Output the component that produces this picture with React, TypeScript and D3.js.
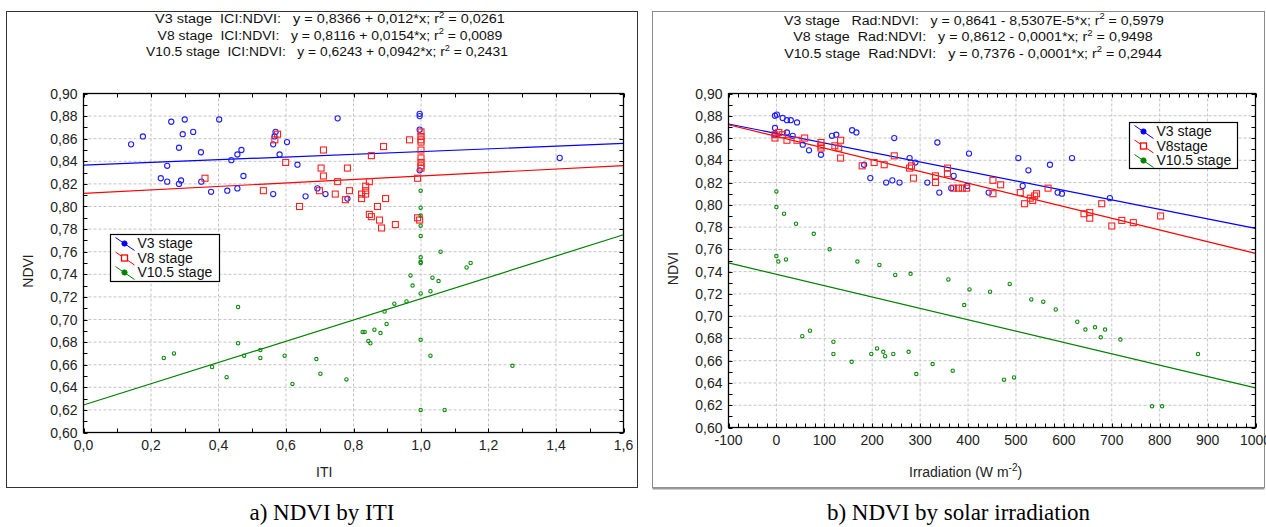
import { useEffect, useRef } from "react";
import * as d3 from "d3";

type Pt = [number, number];

// NDVI tick labels (shared by both panels)
const ndviTicks = [0.6, 0.62, 0.64, 0.66, 0.68, 0.7, 0.72, 0.74, 0.76, 0.78, 0.8, 0.82, 0.84, 0.86, 0.88, 0.9];
const itiTicks = [0, 0.2, 0.4, 0.6, 0.8, 1.0, 1.2, 1.4, 1.6];
const radTicks = [-100, 0, 100, 200, 300, 400, 500, 600, 700, 800, 900, 1000];

// panel a) NDVI by ITI
const v3Iti: Pt[] = [
  [0.141, 0.855], [0.176, 0.862], [0.26, 0.875], [0.3, 0.877], [0.402, 0.877], [0.294, 0.864], [0.325, 0.866],
  [0.283, 0.852], [0.348, 0.848], [0.248, 0.836], [0.229, 0.825], [0.248, 0.822], [0.289, 0.823], [0.283, 0.82],
  [0.349, 0.822], [0.378, 0.813], [0.426, 0.814], [0.456, 0.816], [0.438, 0.841], [0.456, 0.846], [0.468, 0.85],
  [0.474, 0.827], [0.562, 0.855], [0.566, 0.862], [0.569, 0.866], [0.581, 0.846], [0.603, 0.857], [0.562, 0.811],
  [0.634, 0.837], [0.658, 0.809], [0.693, 0.816], [0.717, 0.811], [0.753, 0.878], [0.996, 0.882], [0.996, 0.88],
  [0.996, 0.868], [0.996, 0.832], [1.411, 0.843], [0.782, 0.807],
];
const v8Iti: Pt[] = [
  [0.36, 0.825], [0.533, 0.814], [0.567, 0.859], [0.575, 0.864], [0.599, 0.839], [0.64, 0.8], [0.704, 0.834],
  [0.711, 0.85], [0.711, 0.827], [0.699, 0.814], [0.753, 0.822], [0.746, 0.811], [0.782, 0.834], [0.788, 0.814],
  [0.776, 0.806], [0.853, 0.845], [0.889, 0.853], [0.847, 0.822], [0.836, 0.818], [0.836, 0.814], [0.836, 0.811],
  [0.824, 0.811], [0.824, 0.807], [0.895, 0.807], [0.871, 0.8], [0.847, 0.793], [0.853, 0.791], [0.877, 0.788],
  [0.883, 0.781], [0.924, 0.784], [0.966, 0.859], [1.0, 0.866], [1.0, 0.862], [1.0, 0.859], [1.0, 0.857],
  [1.0, 0.85], [1.0, 0.843], [1.0, 0.839], [1.0, 0.836], [1.0, 0.834], [0.99, 0.825], [0.99, 0.79], [0.996, 0.788],
];
const v105Iti: Pt[] = [
  [0.999, 0.814], [0.999, 0.799], [0.999, 0.792], [0.999, 0.783], [0.999, 0.774], [1.058, 0.76], [0.999, 0.755],
  [0.999, 0.751], [0.999, 0.75], [1.135, 0.746], [1.147, 0.75], [0.969, 0.739], [1.034, 0.737], [0.975, 0.73],
  [1.052, 0.734], [0.999, 0.723], [1.028, 0.725], [0.957, 0.716], [0.921, 0.714], [0.892, 0.707], [0.898, 0.696],
  [0.827, 0.689], [0.833, 0.689], [0.862, 0.691], [0.88, 0.688], [0.844, 0.681], [0.85, 0.679], [0.999, 0.682],
  [1.028, 0.668], [0.69, 0.665], [0.702, 0.652], [0.779, 0.647], [1.271, 0.659], [0.999, 0.62], [1.07, 0.62],
  [0.238, 0.666], [0.268, 0.67], [0.381, 0.658], [0.424, 0.649], [0.458, 0.711], [0.458, 0.679], [0.476, 0.668],
  [0.524, 0.673], [0.524, 0.666], [0.596, 0.668], [0.619, 0.643],
];

// panel b) NDVI by solar irradiation
const v3Rad: Pt[] = [
  [-3, 0.88], [1, 0.881], [13, 0.878], [22, 0.876], [30, 0.876], [43, 0.874], [-3, 0.869], [-3, 0.863], [22, 0.865],
  [34, 0.862], [55, 0.854], [68, 0.849], [93, 0.845], [116, 0.862], [125, 0.863], [158, 0.867], [167, 0.865],
  [183, 0.836], [196, 0.824], [229, 0.82], [242, 0.822], [257, 0.82], [246, 0.86], [278, 0.842], [290, 0.838],
  [315, 0.82], [336, 0.856], [340, 0.811], [370, 0.826], [365, 0.815], [398, 0.817], [402, 0.846], [505, 0.842],
  [526, 0.831], [514, 0.817], [443, 0.811], [571, 0.836], [617, 0.842], [587, 0.811], [596, 0.81], [696, 0.806],
];
const v8Rad: Pt[] = [
  [-3, 0.863], [-3, 0.86], [5, 0.865], [13, 0.863], [22, 0.858], [43, 0.858], [59, 0.86], [93, 0.856], [93, 0.853],
  [93, 0.851], [122, 0.853], [130, 0.851], [134, 0.858], [134, 0.842], [179, 0.835], [204, 0.838], [225, 0.836],
  [246, 0.844], [278, 0.833], [282, 0.835], [286, 0.824], [332, 0.826], [332, 0.82], [357, 0.833], [357, 0.828],
  [370, 0.815], [380, 0.815], [388, 0.815], [397, 0.815], [452, 0.822], [468, 0.818], [452, 0.81], [509, 0.811],
  [518, 0.801], [530, 0.806], [535, 0.804], [539, 0.808], [543, 0.81], [567, 0.815], [642, 0.792], [654, 0.793],
  [654, 0.788], [679, 0.801], [700, 0.781], [721, 0.786], [745, 0.784], [802, 0.79],
];
const v105Rad: Pt[] = [
  [0, 0.812], [0, 0.798], [16, 0.792], [41, 0.783], [78, 0.774], [111, 0.76], [0, 0.754], [4, 0.749], [20, 0.751],
  [169, 0.749], [215, 0.746], [248, 0.737], [280, 0.738], [359, 0.733], [392, 0.71], [403, 0.724], [54, 0.682],
  [70, 0.687], [119, 0.677], [119, 0.666], [157, 0.659], [198, 0.666], [210, 0.671], [223, 0.668], [227, 0.664],
  [244, 0.666], [276, 0.668], [292, 0.648], [326, 0.657], [368, 0.651], [446, 0.722], [487, 0.729], [475, 0.643],
  [496, 0.645], [532, 0.715], [557, 0.713], [583, 0.706], [628, 0.695], [645, 0.688], [665, 0.69], [686, 0.688],
  [677, 0.681], [718, 0.679], [880, 0.666], [784, 0.619], [805, 0.619],
];

// regression lines [intercept, slope]
const itiFits: Pt[] = [[0.8366, 0.012], [0.8116, 0.0154], [0.6243, 0.0942]];
const radFits: Pt[] = [[0.8641, -8.5307e-5], [0.8614, -0.000105], [0.7376, -0.000102]];

const stageNames = ["V3 stage", "V8 stage", "V10.5 stage"];
const stageNamesB = ["V3 stage", "V8stage", "V10.5 stage"];

const itiTitles = [
  ["V3 stage  ICI:NDVI:   y = 0,8366 + 0,012*x; r", " = 0,0261"],
  ["V8 stage  ICI:NDVI:   y = 0,8116 + 0,0154*x; r", " = 0,0089"],
  ["V10.5 stage  ICI:NDVI:   y = 0,6243 + 0,0942*x; r", " = 0,2431"],
];
const radTitles = [
  ["V3 stage   Rad:NDVI:   y = 0,8641 - 8,5307E-5*x; r", " = 0,5979"],
  ["V8 stage  Rad:NDVI:   y = 0,8612 - 0,0001*x; r", " = 0,9498"],
  ["V10.5 stage  Rad:NDVI:   y = 0,7376 - 0,0001*x; r", " = 0,2944"],
];

const colors = ["#0000ff", "#ff0000", "#008000"];
const FONT = "Arial, 'Liberation Sans', sans-serif";

function drawMarker(g: any, kind: number, x: number, y: number) {
  if (kind === 0) {
    g.append("circle").attr("cx", x).attr("cy", y).attr("r", 2.6)
      .attr("fill", "none").attr("stroke", "#2020ff").attr("stroke-width", 1.1);
  } else if (kind === 1) {
    g.append("rect").attr("x", x - 3).attr("y", y - 3).attr("width", 6).attr("height", 6)
      .attr("fill", "none").attr("stroke", "#ff2020").attr("stroke-width", 1.1);
  } else {
    g.append("circle").attr("cx", x).attr("cy", y).attr("r", 1.7)
      .attr("fill", "none").attr("stroke", "#108a10").attr("stroke-width", 1.1);
  }
}

function drawPanel(svg: any, o: any) {
  const { frame, plot, xDomain, xTicks, xMinor, xFmt, series, fits, titles, titleBox, legend, names, xLabel } = o;
  const x = d3.scaleLinear().domain(xDomain).range([plot.x0, plot.x1]);
  const y = d3.scaleLinear().domain([0.6, 0.9]).range([plot.y1, plot.y0]);

  // frame
  svg.append("rect").attr("x", frame.x).attr("y", frame.y).attr("width", frame.w).attr("height", frame.h)
    .attr("fill", "white").attr("stroke", frame.color).attr("stroke-width", 1);
  if (frame.shadow) {
    svg.append("line").attr("x1", frame.x).attr("x2", frame.x + frame.w)
      .attr("y1", frame.y + frame.h + 1).attr("y2", frame.y + frame.h + 1)
      .attr("stroke", "#9a9a9a").attr("stroke-width", 2);
  }

  // titles: centred, stretched to the width seen in the reference
  titles.forEach((t: string[], i: number) => {
    const [cx, by, tw] = titleBox[i];
    const tx = svg.append("text").attr("x", 0).attr("y", 0).attr("text-anchor", "middle")
      .attr("font-family", FONT).attr("font-size", 13.5).attr("fill", "#111").style("white-space", "pre");
    tx.append("tspan").text(t[0]);
    tx.append("tspan").attr("dy", -5.5).attr("font-size", 9).text("2");
    tx.append("tspan").attr("dy", 5.5).text(t[1]);
    const w = tx.node().getComputedTextLength() || tw;
    tx.attr("transform", `translate(${cx},${by}) scale(${tw / w},1)`);
  });

  const g = svg.append("g");

  // grid
  const grid = g.append("g").attr("stroke", "#c4c4c4").attr("stroke-dasharray", "3,2").attr("stroke-width", 1);
  xTicks.slice(1, -1).forEach((v: number) => {
    grid.append("line").attr("x1", x(v)).attr("x2", x(v)).attr("y1", plot.y0).attr("y2", plot.y1);
  });
  ndviTicks.slice(1, -1).forEach((v: number) => {
    grid.append("line").attr("x1", plot.x0).attr("x2", plot.x1).attr("y1", y(v)).attr("y2", y(v));
  });

  // ticks (inward)
  const tk = g.append("g").attr("stroke", "#000").attr("stroke-width", 1);
  xMinor.forEach((v: number) => {
    const px = Math.round(x(v)) + 0.5;
    tk.append("line").attr("x1", px).attr("x2", px).attr("y1", plot.y1).attr("y2", plot.y1 - 4);
    tk.append("line").attr("x1", px).attr("x2", px).attr("y1", plot.y0).attr("y2", plot.y0 + 4);
  });
  d3.range(60, 91).map((d) => d / 100).forEach((v: number) => {
    const py = Math.round(y(v)) + 0.5;
    tk.append("line").attr("x1", plot.x0).attr("x2", plot.x0 + 4).attr("y1", py).attr("y2", py);
    tk.append("line").attr("x1", plot.x1).attr("x2", plot.x1 - 4).attr("y1", py).attr("y2", py);
  });

  // fit lines
  fits.forEach((f: Pt, i: number) => {
    const line = d3.line<number>().x((d) => x(d)).y((d) => y(f[0] + f[1] * d));
    g.append("path").attr("d", line(xDomain)).attr("fill", "none")
      .attr("stroke", colors[i]).attr("stroke-width", 1.2);
  });

  // points
  series.forEach((s: Pt[], i: number) => {
    const sg = g.append("g");
    s.forEach((d) => drawMarker(sg, i, x(d[0]), y(d[1])));
  });

  // axis box
  g.append("rect").attr("x", plot.x0).attr("y", plot.y0).attr("width", plot.x1 - plot.x0)
    .attr("height", plot.y1 - plot.y0).attr("fill", "none").attr("stroke", "#000").attr("stroke-width", 1.3);

  // tick labels
  ndviTicks.forEach((v: number) => {
    svg.append("text").attr("x", plot.x0 - 6).attr("y", y(v) + 5).attr("text-anchor", "end")
      .attr("font-family", FONT).attr("font-size", 14).attr("fill", "#222")
      .text(d3.format(".2f")(v).replace(".", ","));
  });
  xTicks.forEach((v: number) => {
    svg.append("text").attr("x", x(v)).attr("y", plot.y1 + 17).attr("text-anchor", "middle")
      .attr("font-family", FONT).attr("font-size", 14).attr("fill", "#222")
      .text(xFmt(v).replace(".", ","));
  });

  // axis titles
  svg.append("text").attr("transform", `translate(${o.yLabelX},${(plot.y0 + plot.y1) / 2 + 8}) rotate(-90)`)
    .attr("text-anchor", "middle").attr("font-family", FONT).attr("font-size", 14).attr("fill", "#222").text("NDVI");
  const xl = svg.append("text").attr("x", xLabel.x).attr("y", xLabel.y)
    .attr("font-family", FONT).attr("font-size", 14).attr("fill", "#222").style("white-space", "pre");
  xl.append("tspan").text(xLabel.text);
  if (xLabel.sup) {
    xl.append("tspan").attr("dy", -6).attr("font-size", 10).text(xLabel.sup);
    xl.append("tspan").attr("dy", 6).text(")");
  }

  // legend
  const lg = svg.append("g");
  lg.append("rect").attr("x", legend.x).attr("y", legend.y).attr("width", legend.w).attr("height", legend.h)
    .attr("fill", "white").attr("stroke", "#000").attr("stroke-width", 1.2);
  names.forEach((n: string, i: number) => {
    const cy = legend.y + 9 + i * legend.step;
    const cx = legend.x + 14;
    lg.append("line").attr("x1", cx - 9).attr("y1", cy - 6).attr("x2", cx + 10).attr("y2", cy + 7)
      .attr("stroke", colors[i]).attr("stroke-width", 1);
    if (i === 1) {
      lg.append("rect").attr("x", cx - 3).attr("y", cy - 3).attr("width", 6).attr("height", 6)
        .attr("fill", "white").attr("stroke", colors[i]).attr("stroke-width", 1.3);
    } else {
      lg.append("circle").attr("cx", cx).attr("cy", cy).attr("r", 2.6)
        .attr("fill", colors[i]).attr("stroke", colors[i]).attr("stroke-width", 1);
    }
    lg.append("text").attr("x", legend.x + 27).attr("y", cy + 4.5)
      .attr("font-family", FONT).attr("font-size", 14).attr("fill", "#111").text(n);
  });

  // caption
  svg.append("text").attr("x", frame.x + frame.w / 2).attr("y", 520).attr("text-anchor", "middle")
    .attr("font-family", "'Liberation Serif', 'Times New Roman', serif").attr("font-size", 23)
    .attr("fill", "#000").text(o.caption);
}

export default function App() {
  const ref = useRef<HTMLDivElement>(null);

  useEffect(() => {
    const container = d3.select(ref.current);
    container.selectAll("*").remove();

    const svg = container.append("svg")
      .attr("width", 1266).attr("height", 527)
      .style("position", "absolute").style("left", "0px").style("top", "0px")
      .style("background", "white");

    drawPanel(svg, {
      frame: { x: 6.5, y: 11.5, w: 631, h: 476, color: "#333", shadow: false },
      plot: { x0: 83.5, x1: 623.5, y0: 93.5, y1: 432.5 },
      xDomain: [0, 1.6],
      xTicks: itiTicks,
      xMinor: d3.range(0, 17).map((d) => d / 10),
      xFmt: d3.format(".1f"),
      series: [v3Iti, v8Iti, v105Iti],
      fits: itiFits,
      titles: itiTitles,
      titleBox: [[330, 23, 350], [330, 39.5, 345], [327, 56, 362]],
      legend: { x: 110.5, y: 234.5, w: 109, h: 47, step: 14.5 },
      names: stageNames,
      yLabelX: 33,
      xLabel: { x: 316, y: 477, text: "ITI" },
      caption: "a) NDVI by ITI",
    });

    drawPanel(svg, {
      frame: { x: 652.5, y: 11.5, w: 612, h: 476, color: "#8a8a8a", shadow: true },
      plot: { x0: 728.5, x1: 1255.5, y0: 93.5, y1: 427.5 },
      xDomain: [-100, 1000],
      xTicks: radTicks,
      xMinor: d3.range(-100, 1001, 20),
      xFmt: (v: number) => String(v),
      series: [v3Rad, v8Rad, v105Rad],
      fits: radFits,
      titles: radTitles,
      titleBox: [[974, 24.5, 380], [973, 41, 360], [973, 57.5, 378]],
      legend: { x: 1129.5, y: 122.5, w: 108, h: 46, step: 14.5 },
      names: stageNamesB,
      yLabelX: 678,
      xLabel: { x: 909, y: 477, text: "Irradiation (W m", sup: "-2" },
      caption: "b) NDVI by solar irradiation",
    });
  }, []);

  return <div ref={ref}></div>;
}
